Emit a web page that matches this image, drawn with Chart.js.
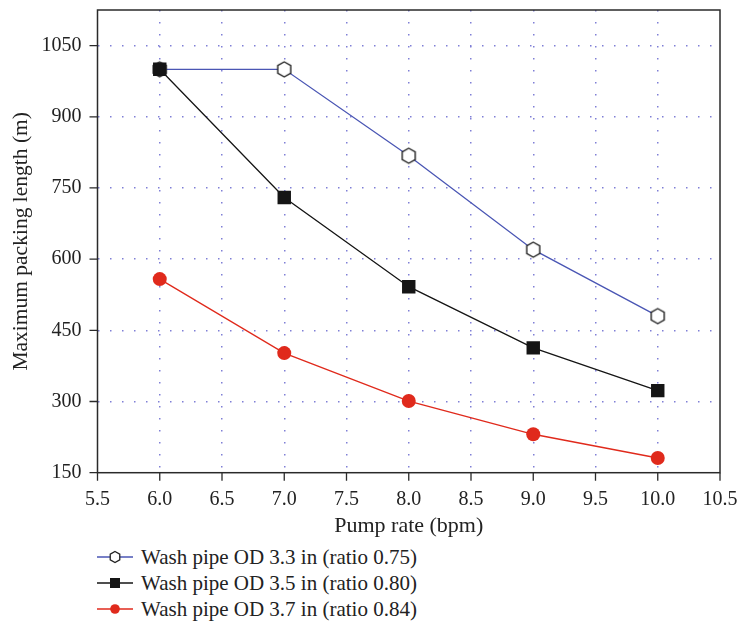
<!DOCTYPE html>
<html>
<head>
<meta charset="utf-8">
<script src="https://cdn.jsdelivr.net/npm/chart.js@4.4.1/dist/chart.umd.min.js"></script>
<style>
  html, body { margin: 0; padding: 0; background: #fff; }
  #wrap { position: relative; width: 739px; height: 624px; }
  #c { position: absolute; left: 0; top: 0; }
  #legend { position: absolute; left: 97px; top: 544px; font-family: "Liberation Serif", serif; font-size: 21px; color: #222; }
  .item { height: 26px; display: flex; align-items: center; }
  .item svg { margin-right: 8px; }
</style>
</head>
<body>
<div id="wrap">
  <canvas id="c" width="739" height="540"></canvas>
  <div id="legend"></div>
</div>
<script>
// ---- data ----
const pumpRate = [6, 7, 8, 9, 10];
const od33 = [1000, 1000, 818, 620, 480];
const od35 = [1000, 730, 542, 413, 323];
const od37 = [558, 402, 301, 231, 181];
const seriesNames = [
  'Wash pipe OD 3.3 in (ratio 0.75)',
  'Wash pipe OD 3.5 in (ratio 0.80)',
  'Wash pipe OD 3.7 in (ratio 0.84)'
];
const xTitle = 'Pump rate (bpm)';
const yTitle = 'Maximum packing length (m)';

// ---- styles ----
const blue = '#4a56b4', black = '#151515', red = '#e02a1c';
const gridColor = '#7f7fd6';
const FONT = '"Liberation Serif", serif';

function hexImage(r) {
  const s = Math.ceil(r * 2 + 4);
  const cv = document.createElement('canvas');
  cv.width = s; cv.height = s;
  const g = cv.getContext('2d');
  g.beginPath();
  for (let i = 0; i < 6; i++) {
    const a = -Math.PI / 2 + i * Math.PI / 3;
    const px = s / 2 + r * Math.cos(a), py = s / 2 + r * Math.sin(a);
    i ? g.lineTo(px, py) : g.moveTo(px, py);
  }
  g.closePath();
  g.fillStyle = '#fff'; g.fill();
  g.lineWidth = 1.4; g.strokeStyle = '#222'; g.stroke();
  return cv;
}
const hex = hexImage(7.5);

const toPts = (ys) => pumpRate.map((x, i) => ({ x, y: ys[i] }));

const frame = {
  id: 'frame',
  afterDraw(chart) {
    const { ctx, chartArea: a, scales: { x, y } } = chart;
    ctx.save();
    ctx.strokeStyle = '#2a2a2a';
    ctx.lineWidth = 1.5;
    ctx.strokeRect(a.left, a.top, a.right - a.left, a.bottom - a.top);
    ctx.lineWidth = 1.3;
    ctx.beginPath();
    x.ticks.forEach(t => {
      const px = x.getPixelForValue(t.value);
      const len = (t.value * 2) % 1 === 0 ? 8 : 5;
      ctx.moveTo(px, a.bottom); ctx.lineTo(px, a.bottom + len);
    });
    y.ticks.forEach(t => {
      const py = y.getPixelForValue(t.value);
      const len = t.value % 150 === 0 ? 8 : 5;
      ctx.moveTo(a.left, py); ctx.lineTo(a.left - len, py);
    });
    ctx.stroke();
    ctx.restore();
  }
};

new Chart(document.getElementById('c'), {
  type: 'line',
  data: {
    datasets: [
      { label: seriesNames[0], data: toPts(od33), borderColor: blue, borderWidth: 1.3,
        pointStyle: hex, pointRadius: 8, order: 1 },
      { label: seriesNames[1], data: toPts(od35), borderColor: black, backgroundColor: black, borderWidth: 1.3,
        pointStyle: 'rect', pointRadius: 9.5, pointBorderWidth: 0, order: 0 },
      { label: seriesNames[2], data: toPts(od37), borderColor: red, backgroundColor: red, borderWidth: 1.3,
        pointStyle: 'circle', pointRadius: 7, pointBorderWidth: 0, order: 2 }
    ]
  },
  options: {
    responsive: false,
    animation: false,
    layout: { padding: { top: 10, right: 19, left: 0, bottom: 0 } },
    plugins: { legend: { display: false }, tooltip: { enabled: false } },
    scales: {
      x: {
        type: 'linear', min: 5.5, max: 10.5,
        border: { display: false, dash: [1.5, 10.5] },
        afterFit: s => { s.height = 67.3; s.paddingLeft = 0; s.paddingRight = 0; },
        grid: {
          drawTicks: false, lineWidth: 1.5,
          color: c => (c.tick && c.tick.value >= 6 && c.tick.value <= 10 && (c.tick.value * 2) % 1 === 0) ? gridColor : 'transparent'
        },
        ticks: {
          stepSize: 0.25, autoSkip: false, maxRotation: 0, padding: 15, color: '#222',
          font: { family: FONT, size: 20 },
          callback: v => ((v * 2) % 1 === 0 ? v.toFixed(1) : null)
        },
        title: { display: true, text: xTitle, color: '#222', font: { family: FONT, size: 22 }, padding: { top: 0, bottom: 1 } }
      },
      y: {
        type: 'linear', min: 150, max: 1125,
        border: { display: false, dash: [1.5, 10.5] },
        afterFit: s => { s.width = 97.5; s.paddingTop = 0; s.paddingBottom = 0; },
        grid: {
          drawTicks: false, lineWidth: 1.5,
          color: c => (c.tick && c.tick.value % 150 === 0 && c.tick.value > 150 && c.tick.value < 1125) ? gridColor : 'transparent'
        },
        ticks: {
          stepSize: 75, autoSkip: false, padding: 16, color: '#222',
          font: { family: FONT, size: 20 },
          callback: v => (v % 150 === 0 && v < 1125 ? String(v) : null)
        },
        title: { display: true, text: yTitle, color: '#222', font: { family: FONT, size: 21.5 }, padding: { top: 8, bottom: 0 } }
      }
    }
  },
  plugins: [frame]
});

// ---- HTML legend ----
const legendEl = document.getElementById('legend');
const sym = [
  `<polygon points="${[0,1,2,3,4,5].map(i=>{const a=-Math.PI/2+i*Math.PI/3;return (18+5.5*Math.cos(a)).toFixed(2)+','+(8+5.5*Math.sin(a)).toFixed(2);}).join(' ')}" fill="#fff" stroke="#222" stroke-width="1.3"/>`,
  `<rect x="13" y="3" width="10" height="10" fill="${black}"/>`,
  `<circle cx="18" cy="8" r="4.8" fill="${red}"/>`
];
const cols = [blue, black, red];
seriesNames.forEach((name, i) => {
  const d = document.createElement('div');
  d.className = 'item';
  d.innerHTML = `<svg width="36" height="16"><line x1="0" y1="8" x2="36" y2="8" stroke="${cols[i]}" stroke-width="1.5"/>${sym[i]}</svg><span>${name}</span>`;
  legendEl.appendChild(d);
});
</script>
</body>
</html>
